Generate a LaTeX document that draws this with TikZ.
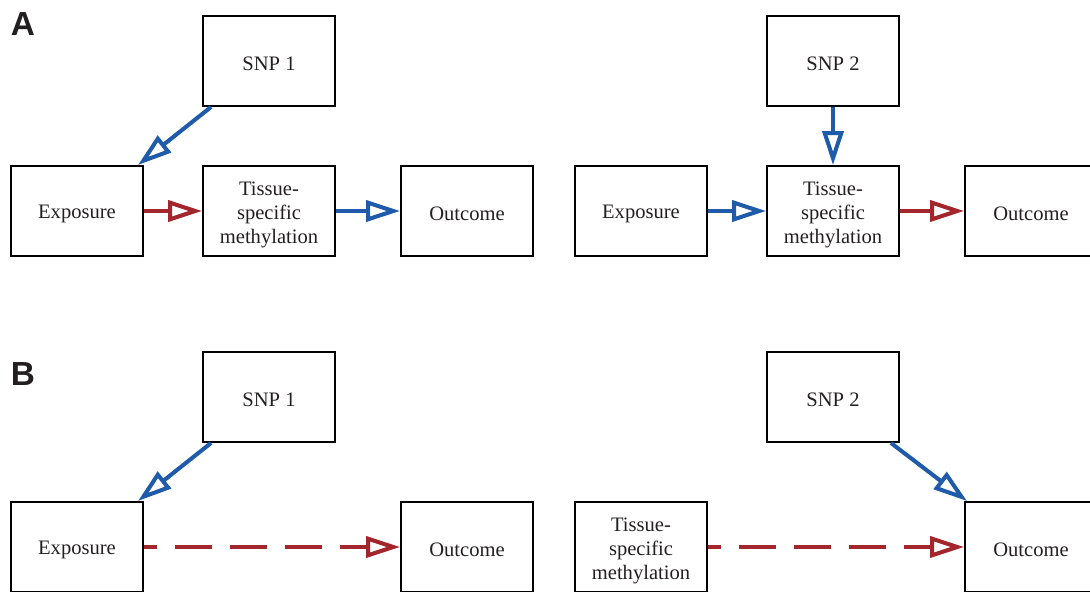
\documentclass[tikz,border=0pt]{standalone}
\usepackage{fontspec}
\setmainfont{Liberation Serif}
\setsansfont{Liberation Sans}
\usetikzlibrary{arrows.meta}
\definecolor{pathblue}{HTML}{1F5BAA}
\definecolor{pathred}{HTML}{A2262B}
\definecolor{textgray}{HTML}{231F20}
\tikzset{
  box/.style={draw=black, line width=1.1pt, minimum width=2.64cm, minimum height=1.8cm,
    align=center, text=textgray, inner sep=0pt, text height=11.4pt,
    font=\fontsize{11.7}{13.6}\selectfont},
  tallbox/.style={box, text height=39pt},
  link/.style={line width=2.3pt, -{Triangle[open, length=0.68cm, width=0.42cm]}},
  bluelink/.style={link, draw=pathblue},
  redlink/.style={link, draw=pathred},
  nolink/.style={redlink, dash pattern=on 0.74cm off 0.36cm, dash phase=0.48cm},
  panel/.style={font=\sffamily\bfseries\fontsize{19}{19}\selectfont, text=textgray}
}
\begin{document}
\begin{tikzpicture}[x=0.02cm, y=-0.02cm]
  \useasboundingbox (0,0) rectangle (1090,592);
  % panel A
  \node[panel] (pa) at (23,24) {A};
  \node[box] (snpa) at (269,61) {SNP 1};
  \node[box] (expa) at (77,211) {Exposure};
  \node[tallbox] (metha) at (269,211) {Tissue-\\specific\\methylation};
  \node[box] (outa) at (467,211) {Outcome};
  \node[box] (snpb) at (833,61) {SNP 2};
  \node[box] (expb) at (641,211) {Exposure};
  \node[tallbox] (methb) at (833,211) {Tissue-\\specific\\methylation};
  \node[box] (outb) at (1031,211) {Outcome};
  \draw[bluelink] ([xshift=0.18cm]snpa.south west) -- ([xshift=-0.12cm]expa.north east);
  \draw[redlink] (expa) -- (metha);
  \draw[bluelink] (metha) -- (outa);
  \draw[bluelink] (snpb) -- (methb);
  \draw[bluelink] (expb) -- (methb);
  \draw[redlink] (methb) -- (outb);
  % panel B
  \node[panel] (pb) at (23,374) {B};
  \node[box] (snpc) at (269,397) {SNP 1};
  \node[box] (expc) at (77,547) {Exposure};
  \node[box] (outc) at (467,547) {Outcome};
  \node[box] (snpd) at (833,397) {SNP 2};
  \node[tallbox] (methd) at (641,547) {Tissue-\\specific\\methylation};
  \node[box] (outd) at (1031,547) {Outcome};
  \draw[bluelink] ([xshift=0.18cm]snpc.south west) -- ([xshift=-0.12cm]expc.north east);
  \draw[nolink] (expc) -- (outc);
  \draw[bluelink] ([xshift=-0.18cm]snpd.south east) -- ([xshift=0.06cm]outd.north west);
  \draw[nolink] (methd) -- (outd);
\end{tikzpicture}
\end{document}
